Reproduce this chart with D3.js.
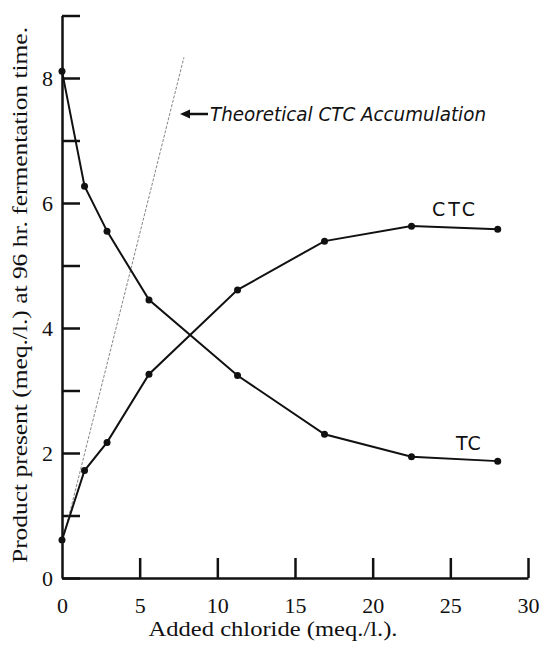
<!DOCTYPE html>
<html>
<head>
<meta charset="utf-8">
<script src="https://cdn.jsdelivr.net/npm/d3@7"></script>
<style>
  body { margin: 0; background: #fff; }
</style>
</head>
<body>
<div id="viz"></div>
<script>
// chloride levels (meq./l.)
const chloride = [0, 1.45, 2.9, 5.6, 11.3, 16.9, 22.5, 28.05];
const ctc = [0.61, 1.72, 2.17, 3.26, 4.61, 5.39, 5.63, 5.58];
const tc = [8.11, 6.27, 5.55, 4.45, 3.24, 2.30, 1.94, 1.87];
// theoretical CTC accumulation line, end points
const theoX = [0, 7.85];
const theoY = [0.55, 8.33];
const xTicks = [0, 5, 10, 15, 20, 25, 30];
const yTicks = [0, 1, 2, 3, 4, 5, 6, 7, 8, 9];
const yLabelled = [0, 2, 4, 6, 8];

const width = 541, height = 645;

const svg = d3.select("#viz").append("svg")
    .attr("width", width)
    .attr("height", height);

const x = d3.scaleLinear().domain([0, 30]).range([62, 528]);
const y = d3.scaleLinear().domain([0, 9]).range([578, 15.5]);

const serif = "'Liberation Serif', 'Times New Roman', serif";

// axes
const yAxis = svg.append("g")
    .attr("transform", `translate(${x(0)},0)`)
    .call(d3.axisLeft(y)
        .tickValues(yTicks)
        .tickSizeInner(-18)
        .tickSizeOuter(0)
        .tickPadding(9)
        .tickFormat(d => yLabelled.includes(d) ? d : ""));

const xAxis = svg.append("g")
    .attr("transform", `translate(0,${y(0)})`)
    .call(d3.axisBottom(x)
        .tickValues(xTicks)
        .tickSizeInner(-20)
        .tickSizeOuter(0)
        .tickPadding(19));

[xAxis, yAxis].forEach(a => {
    a.attr("font-family", null).attr("font-size", null);
    a.selectAll("path, line").attr("stroke", "#111").attr("stroke-width", 2.5);
    a.selectAll("text")
        .attr("fill", "#111")
        .style("font-family", serif)
        .style("font-size", "22px");
});
xAxis.select(".tick line").remove(); // no tick at 0 on x

// theoretical line
svg.append("line")
    .attr("x1", x(theoX[0])).attr("y1", y(theoY[0]))
    .attr("x2", x(theoX[1])).attr("y2", y(theoY[1]))
    .attr("stroke", "#777")
    .attr("stroke-width", 0.9)
    .attr("stroke-dasharray", "3,1.5");

const line = d3.line()
    .x((d, i) => x(chloride[i]))
    .y(d => y(d));

[ctc, tc].forEach(series => {
    svg.append("path")
        .datum(series)
        .attr("fill", "none")
        .attr("stroke", "#111")
        .attr("stroke-width", 2)
        .attr("d", line);

    svg.append("g").selectAll("circle")
        .data(series)
        .enter().append("circle")
        .attr("cx", (d, i) => x(chloride[i]))
        .attr("cy", d => y(d))
        .attr("r", 3.5)
        .attr("fill", "#111");
});

// series labels
svg.append("text")
    .attr("x", 432).attr("y", 216)
    .style("font-family", "'DejaVu Sans', sans-serif")
    .style("font-size", "19px")
    .attr("letter-spacing", 3)
    .attr("fill", "#111")
    .text("CTC");

svg.append("text")
    .attr("x", 456).attr("y", 450)
    .style("font-family", "'DejaVu Sans', sans-serif")
    .style("font-size", "19px")
    .attr("letter-spacing", 1)
    .attr("fill", "#111")
    .text("TC");

// annotation with arrow
svg.append("path")
    .attr("d", "M180,114 L190,109.5 L190,118.5 Z")
    .attr("fill", "#111");

svg.append("line")
    .attr("x1", 186).attr("y1", 114)
    .attr("x2", 208).attr("y2", 114)
    .attr("stroke", "#111")
    .attr("stroke-width", 2.5);

svg.append("text")
    .attr("x", 210).attr("y", 121)
    .style("font-family", "'DejaVu Sans Condensed', 'DejaVu Sans', sans-serif")
    .style("font-style", "italic")
    .style("font-size", "20px")
    .attr("textLength", 276)
    .attr("lengthAdjust", "spacingAndGlyphs")
    .attr("fill", "#111")
    .text("Theoretical CTC Accumulation");

// axis titles
svg.append("text")
    .attr("x", 273).attr("y", 636)
    .attr("text-anchor", "middle")
    .style("font-family", serif)
    .style("font-size", "21px")
    .attr("textLength", 249)
    .attr("lengthAdjust", "spacingAndGlyphs")
    .attr("fill", "#111")
    .text("Added chloride (meq./l.).");

svg.append("text")
    .attr("transform", "translate(27,295) rotate(-90)")
    .attr("text-anchor", "middle")
    .style("font-family", serif)
    .style("font-size", "21px")
    .attr("textLength", 536)
    .attr("lengthAdjust", "spacingAndGlyphs")
    .attr("fill", "#111")
    .text("Product present (meq./l.) at 96 hr. fermentation time.");
</script>
</body>
</html>
